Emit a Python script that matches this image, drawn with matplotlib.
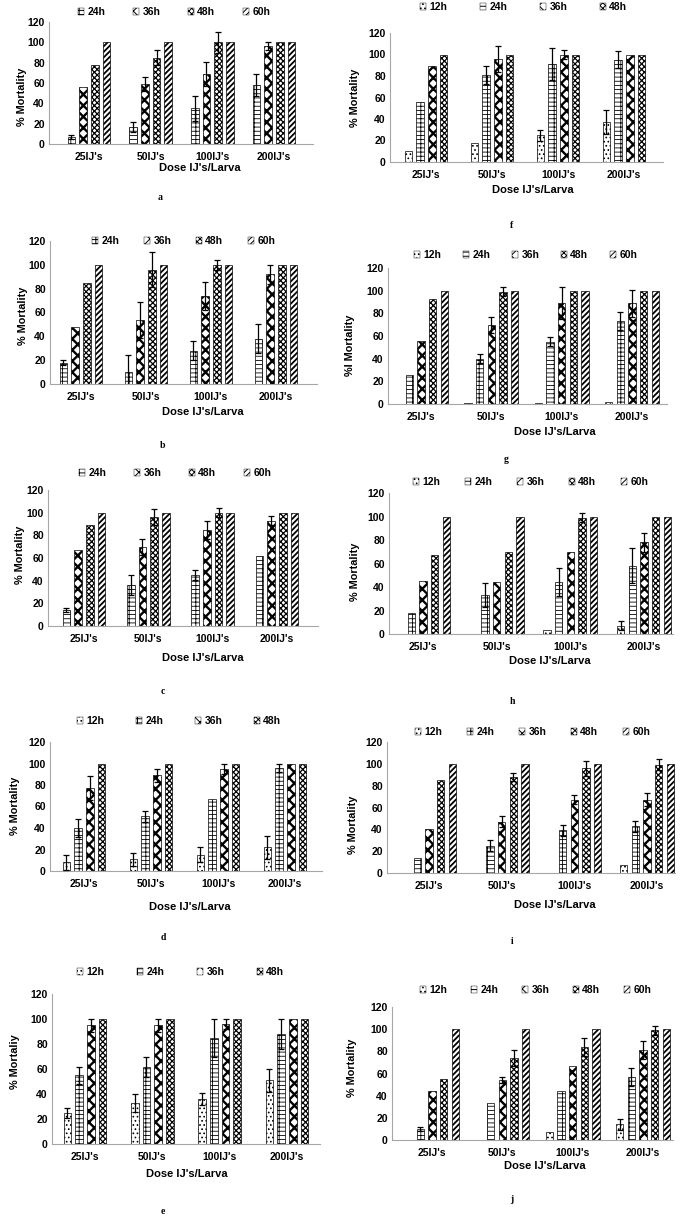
import numpy as np
import matplotlib
matplotlib.use('Agg')
from matplotlib import pyplot as plt
from matplotlib.patches import Patch

plt.rcParams['font.family'] = ['Liberation Sans', 'DejaVu Sans']
plt.rcParams['font.weight'] = 'bold'
plt.rcParams['hatch.linewidth'] = 0.7

DOSES = ["25IJ's", "50IJ's", "100IJ's", "200IJ's"]

# rows = exposure time, columns = dose
a_times = ['24h', '36h', '48h', '60h']
a_mean = [[7, 17, 35, 58], [56, 59, 69, 96], [78, 85, 100, 100], [100, 100, 100, 100]]
a_err = [[2, 5, 12, 11], [0, 7, 12, 4], [0, 7, 10, 0], [0, 0, 0, 0]]

b_times = ['24h', '36h', '48h', '60h']
b_mean = [[18, 10, 28, 38], [48, 54, 74, 92], [85, 96, 100, 100], [100, 100, 100, 100]]
b_err = [[2, 14, 8, 12], [0, 15, 12, 8], [0, 15, 4, 0], [0, 0, 0, 0]]

c_times = ['24h', '36h', '48h', '60h']
c_mean = [[14, 36, 45, 62], [67, 70, 85, 93], [89, 96, 100, 100], [100, 100, 100, 100]]
c_err = [[2, 9, 4, 0], [0, 7, 8, 4], [0, 7, 4, 0], [0, 0, 0, 0]]

d_times = ['12h', '24h', '36h', '48h']
d_mean = [[8, 11, 15, 22], [40, 51, 67, 96], [77, 89, 95, 100], [100, 100, 100, 100]]
d_err = [[7, 6, 7, 11], [8, 5, 0, 4], [11, 6, 5, 0], [0, 0, 0, 0]]

e_times = ['12h', '24h', '36h', '48h']
e_mean = [[25, 33, 36, 51], [55, 62, 85, 88], [95, 95, 96, 100], [100, 100, 100, 100]]
e_err = [[4, 7, 5, 9], [7, 8, 15, 12], [5, 5, 4, 0], [0, 0, 0, 0]]

f_times = ['12h', '24h', '36h', '48h']
f_mean = [[10, 18, 25, 37], [56, 81, 91, 95], [89, 96, 100, 100], [100, 100, 100, 100]]
f_err = [[0, 0, 5, 11], [0, 8, 15, 8], [0, 12, 4, 0], [0, 0, 0, 0]]

g_times = ['12h', '24h', '36h', '48h', '60h']
g_mean = [[0, 0.5, 0.5, 1.5], [26, 40, 55, 73], [56, 70, 89, 89], [93, 99, 100, 100], [100, 100, 100, 100]]
g_err = [[0, 0, 0, 0], [0, 4, 4, 8], [0, 7, 14, 12], [0, 4, 0, 0], [0, 0, 0, 0]]

h_times = ['12h', '24h', '36h', '48h', '60h']
h_mean = [[0, 0, 3, 7], [18, 33, 44, 58], [45, 44, 70, 78], [67, 70, 99, 100], [100, 100, 100, 100]]
h_err = [[0, 0, 0, 4], [0, 10, 12, 15], [0, 0, 0, 8], [0, 0, 4, 0], [0, 0, 0, 0]]

i_times = ['12h', '24h', '36h', '48h', '60h']
i_mean = [[0, 0, 0, 7], [14, 25, 39, 43], [40, 47, 67, 67], [85, 88, 96, 99], [100, 100, 100, 100]]
i_err = [[0, 0, 0, 0], [0, 5, 5, 5], [0, 5, 4, 6], [0, 4, 7, 5], [0, 0, 0, 0]]

j_times = ['12h', '24h', '36h', '48h', '60h']
j_mean = [[0, 0, 7, 14], [10, 33, 44, 57], [44, 54, 67, 81], [55, 74, 84, 99], [100, 100, 100, 100]]
j_err = [[0, 0, 0, 5], [2, 0, 0, 8], [0, 3, 0, 8], [0, 7, 8, 4], [0, 0, 0, 0]]

HATCH = {'12h': '....', '24h': '----||', '36h': 'xxx', '48h': 'xxxxxx', '60h': '//////'}
HATCH_LW = {'12h': 0.7, '24h': 0.6, '36h': 1.7, '48h': 0.9, '60h': 1.3}

W, H = 685, 1216

# letter, times, means, errs, axes box (L, T, R, B px), category centres, legend (x, y, spacing),
# xlabel pos, letter pos, ylabel pos, ylabel text
panels = [
    ('a', a_times, a_mean, a_err, (49, 22, 313, 144), (89, 274), (78, 12, 55), (200, 168), (160, 198), (22, 97), '% Mortality'),
    ('b', b_times, b_mean, b_err, (50, 241, 317, 384), (81, 276), (92, 241, 52), (203, 412), (163, 446), (23, 316), '% Mortality'),
    ('c', c_times, c_mean, c_err, (48, 490, 318, 626), (84, 277), (79, 473, 55), (203, 658), (163, 692), (20, 555), '% Mortality'),
    ('d', d_times, d_mean, d_err, (50, 742, 322, 871), (84, 285), (77, 721, 59), (190, 907), (163, 937), (15, 806), '% Mortality'),
    ('e', e_times, e_mean, e_err, (52, 994, 320, 1144), (85, 287), (77, 972, 60), (187, 1174), (163, 1212), (15, 1062), '% Mortaliy'),
    ('f', f_times, f_mean, f_err, (390, 33, 663, 162), (426, 624), (420, 7, 60), (533, 190), (512, 226), (355, 98), '% Mortality'),
    ('g', g_times, g_mean, g_err, (388, 268, 667, 404), (421, 632), (414, 255, 49), (555, 432), (506, 460), (350, 345), '%I Mortality'),
    ('h', h_times, h_mean, h_err, (389, 493, 673, 634), (423, 644), (413, 482, 52), (550, 661), (512, 702), (355, 572), '% Mortality'),
    ('i', i_times, i_mean, i_err, (387, 742, 675, 873), (429, 647), (415, 732, 52), (555, 905), (512, 942), (353, 825), '% Mortality'),
    ('j', j_times, j_mean, j_err, (392, 1007, 673, 1140), (432, 643), (420, 990, 51), (545, 1166), (512, 1200), (352, 1068), '% Mortality'),
]


def set_hatch_lw(patch, lw):
    try:
        patch.set_hatch_linewidth(lw)
    except AttributeError:
        pass


def draw_panel(fig, p):
    letter, times, means, errs, box, cats, leg, xlab, lab, ylab, ytext = p
    L, T, R, B = box
    ax = fig.add_axes([L / W, 1 - B / H, (R - L) / W, (B - T) / H])
    k = (cats[1] - cats[0]) / 3
    xmin = -(cats[0] - L) / k
    ax.set_xlim(xmin, xmin + (R - L) / k)
    ax.set_ylim(0, 120)
    n = len(times)
    step = 11.7 / k
    width = 7.5 / k
    x = np.arange(len(DOSES))
    handles = []
    for s, t in enumerate(times):
        pos = x + (s - (n - 1) / 2) * step
        vals = np.array(means[s], dtype=float)
        bars = ax.bar(pos, vals, width, color='white', edgecolor='black',
                      linewidth=0.5, hatch=HATCH[t], zorder=2)
        for b in bars:
            set_hatch_lw(b, HATCH_LW[t])
        e = np.array(errs[s], dtype=float)
        m = e > 0
        if m.any():
            ax.errorbar(pos[m], vals[m], yerr=e[m], fmt='none', ecolor='black',
                        elinewidth=0.9, capsize=2, capthick=0.9, zorder=3)
        hp = Patch(facecolor='white', edgecolor='black', linewidth=0.3, hatch=HATCH[t], label=t)
        set_hatch_lw(hp, HATCH_LW[t])
        handles.append(hp)

    ax.set_xticks(x)
    ax.set_xticklabels(DOSES)
    ax.set_yticks(range(0, 121, 20))
    ax.tick_params(axis='both', length=0, labelsize=7.5)
    ax.tick_params(axis='x', pad=6)
    ax.tick_params(axis='y', pad=3)
    for side in ['top', 'right']:
        ax.spines[side].set_visible(False)
    for side in ['left', 'bottom']:
        ax.spines[side].set_color('#a6a6a6')
        ax.spines[side].set_linewidth(0.8)

    em = 7.5 * 100 / 72
    cs = leg[2] / em - 2.62
    ax.legend(handles=handles, loc='center left', bbox_to_anchor=(leg[0] / W, 1 - leg[1] / H),
              bbox_transform=fig.transFigure, ncol=n, frameon=False, fontsize=7.5,
              handlelength=0.6, handleheight=0.6, handletextpad=0.3, columnspacing=cs,
              borderaxespad=0, borderpad=0)

    fig.text(xlab[0] / W, 1 - xlab[1] / H, "Dose IJ's/Larva", ha='center', va='center', fontsize=8)
    fig.text(ylab[0] / W, 1 - ylab[1] / H, ytext, ha='center', va='center', rotation=90, fontsize=7.8)
    fig.text(lab[0] / W, 1 - lab[1] / H, letter, ha='center', va='center', fontsize=7,
             family=['Liberation Serif', 'DejaVu Serif'], fontweight='bold')


fig = plt.figure(figsize=(W / 100, H / 100), dpi=100)
for p in panels:
    draw_panel(fig, p)
fig.savefig('out.png', dpi=100)
